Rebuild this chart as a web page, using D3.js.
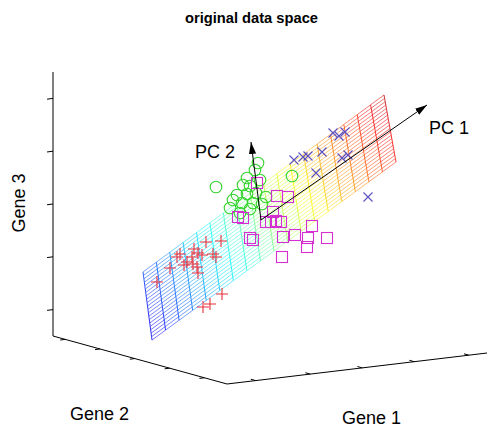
<!DOCTYPE html>
<html>
<head>
<meta charset="utf-8">
<script src="https://cdn.jsdelivr.net/npm/d3@7"></script>
<style>
  body { margin: 0; background: #fff; }
  text { font-family: "Liberation Sans", Arial, sans-serif; fill: #000; }
</style>
</head>
<body>
<svg id="chart" width="487" height="427"></svg>
<script>
// all positions are in the projected view plane (x: 0..43.4, y: 0..31.2)
const redPlus = [[15.3,14.2],[16.8,14.3],[12.7,13.0],[14.1,13.5],[14.5,13.1],[14.9,12.9],[16.0,13.0],
  [16.3,12.7],[13.4,12.2],[13.1,11.9],[14.0,12.0],[14.4,11.7],[14.5,11.1],[11.7,11.6],[10.4,10.2],
  [16.9,9.0],[15.7,8.0],[15.0,7.7],[12.4,12.7],[13.9,12.7]];
const greenCircles = [[20.5,22.1],[20.2,21.4],[16.3,19.7],[19.4,20.6],[20.7,20.4],[19.0,19.9],[18.4,18.9],
  [19.4,19.0],[20.3,19.1],[21.3,18.7],[18.9,18.1],[20.0,18.1],[17.7,17.6],[18.7,17.1],[19.7,17.5],
  [20.9,18.0],[23.9,20.8],[18.0,18.4],[19.7,19.8]];
const magentaSquares = [[20.4,20.1],[22.4,18.8],[23.5,18.7],[22.0,17.2],[18.5,16.7],[19.0,16.6],[21.3,16.2],
  [21.8,16.2],[22.3,16.3],[22.8,16.2],[19.7,14.6],[20.0,14.4],[23.0,14.7],[25.5,14.6],[27.4,14.6],
  [25.4,13.7],[22.9,12.7],[24.2,14.9],[25.9,15.8]];
const blueCrosses = [[24.1,22.4],[25.5,22.8],[26.9,23.2],[28.0,25.1],[28.6,24.8],[29.2,25.2],[26.3,21.1],
  [28.9,22.6],[29.5,22.9],[31.5,18.7],[25.0,22.7]];

// fitted plane corners: bottom-left, bottom-right, top-right, top-left
const planeCorners = [[9.9,4.4],[34.3,22.2],[33.1,28.9],[9.0,11.2]];
const pcOrigin = [20.8,16.4];
const pcArrows = [
  { name: "PC 1", tip: [37.4,27.9] },
  { name: "PC 2", tip: [19.8,24.2] }
];

// box corners and tick fractions along each gene axis
const boxFront = [17.4,0], boxLeft = [0,4.8], boxTop = [0,31.2], boxRight = [43.4,3.1];
const gene1Ticks = [0.11,0.32,0.52,0.72,0.93];
const gene2Ticks = [0.13,0.33,0.53,0.73,0.93];
const gene3Ticks = [0.1,0.3,0.5,0.7,0.9];

const svg = d3.select("#chart");
const x = d3.scaleLinear().domain([0, 43.4]).range([53, 487]);
const y = d3.scaleLinear().domain([0, 31.2]).range([384, 72]);
const pt = p => [x(p[0]), y(p[1])];
const lerp = (a, b, t) => [a[0] + (b[0] - a[0]) * t, a[1] + (b[1] - a[1]) * t];

const jet = d3.scaleLinear()
  .domain([0, 0.125, 0.375, 0.625, 0.875, 1])
  .range(["#00008f", "#0000ff", "#00ffff", "#ffff00", "#ff0000", "#800000"]);

// title
svg.append("text").attr("x", 251.5).attr("y", 23).attr("text-anchor", "middle")
  .attr("font-size", "14.7px").attr("font-weight", "bold").text("original data space");

// axes
const axes = svg.append("g").attr("stroke", "#000").attr("fill", "none");
axes.append("path").attr("stroke-width", 1)
  .attr("d", d3.line()([pt(boxTop), pt(boxLeft), pt(boxFront), pt(boxRight)]));

function ticks(from, to, fracs, dir, len) {
  fracs.forEach(f => {
    const p = pt(lerp(from, to, f));
    axes.append("line").attr("stroke-width", 1)
      .attr("x1", p[0]).attr("y1", p[1])
      .attr("x2", p[0] + dir[0] * len).attr("y2", p[1] + dir[1] * len);
  });
}
ticks(boxLeft, boxTop, gene3Ticks, [-0.99, 0.13], 6);
ticks(boxFront, boxLeft, gene2Ticks, [-0.99, 0.13], 5);
ticks(boxFront, boxRight, gene1Ticks, [-0.96, -0.27], 5);

svg.append("text").attr("transform", "translate(25,203) rotate(-90)")
  .attr("text-anchor", "middle").attr("font-size", "18px").text("Gene 3");
svg.append("text").attr("x", 70).attr("y", 420).attr("font-size", "18px").text("Gene 2");
svg.append("text").attr("x", 342).attr("y", 424).attr("font-size", "18px").text("Gene 1");

// mesh of the plane
const nu = 18, nv = 20;
function P(u, v) {
  const bottom = lerp(planeCorners[0], planeCorners[1], u);
  const top = lerp(planeCorners[3], planeCorners[2], u);
  return pt(lerp(bottom, top, v));
}
const colorAt = (u, v) => jet(0.1 + 0.84 * (0.9 * u + 0.1 * v));
const mesh = svg.append("g").attr("fill", "none").attr("stroke-width", 0.9);
d3.range(nv + 1).forEach(j => {
  d3.range(nu).forEach(i => {
    const a = P(i / nu, j / nv), b = P((i + 1) / nu, j / nv);
    mesh.append("line").attr("x1", a[0]).attr("y1", a[1]).attr("x2", b[0]).attr("y2", b[1])
      .attr("stroke", colorAt((i + 0.5) / nu, j / nv)).attr("stroke-opacity", 0.6);
  });
});
d3.range(nu + 1).forEach(i => {
  d3.range(nv).forEach(j => {
    const a = P(i / nu, j / nv), b = P(i / nu, (j + 1) / nv);
    mesh.append("line").attr("x1", a[0]).attr("y1", a[1]).attr("x2", b[0]).attr("y2", b[1])
      .attr("stroke", colorAt(i / nu, (j + 0.5) / nv)).attr("stroke-opacity", 0.9);
  });
});

// data points
const marks = svg.append("g").attr("fill", "none").attr("stroke-width", 1.1);
marks.selectAll(".plus").data(redPlus).enter().append("path")
  .attr("transform", d => `translate(${pt(d)})`).attr("d", "M-6,0H6M0,-6V6").attr("stroke", "#e8303c");
marks.selectAll(".circ").data(greenCircles).enter().append("circle")
  .attr("cx", d => x(d[0])).attr("cy", d => y(d[1])).attr("r", 5.8).attr("stroke", "#35d22f");
marks.selectAll(".sq").data(magentaSquares).enter().append("rect")
  .attr("x", d => x(d[0]) - 5.5).attr("y", d => y(d[1]) - 5.5)
  .attr("width", 11).attr("height", 11).attr("stroke", "#d42fd0");
marks.selectAll(".cross").data(blueCrosses).enter().append("path")
  .attr("transform", d => `translate(${pt(d)})`).attr("d", "M-4.5,-4.5L4.5,4.5M-4.5,4.5L4.5,-4.5").attr("stroke", "#5a4fc0");

// principal component arrows
svg.append("defs").append("marker").attr("id", "head")
  .attr("viewBox", "0 0 10 10").attr("refX", 10).attr("refY", 5)
  .attr("markerWidth", 12).attr("markerHeight", 12).attr("markerUnits", "userSpaceOnUse")
  .attr("orient", "auto")
  .append("path").attr("d", "M0,2L10,5L0,8Z").attr("fill", "#000");
pcArrows.forEach(a => {
  const o = pt(pcOrigin), t = pt(a.tip);
  svg.append("line").attr("x1", o[0]).attr("y1", o[1]).attr("x2", t[0]).attr("y2", t[1])
    .attr("stroke", "#000").attr("stroke-width", 1).attr("marker-end", "url(#head)");
});
svg.append("text").attr("x", 429).attr("y", 134).attr("font-size", "18px").text(pcArrows[0].name);
svg.append("text").attr("x", 195).attr("y", 158).attr("font-size", "18px").text(pcArrows[1].name);
</script>
</body>
</html>
